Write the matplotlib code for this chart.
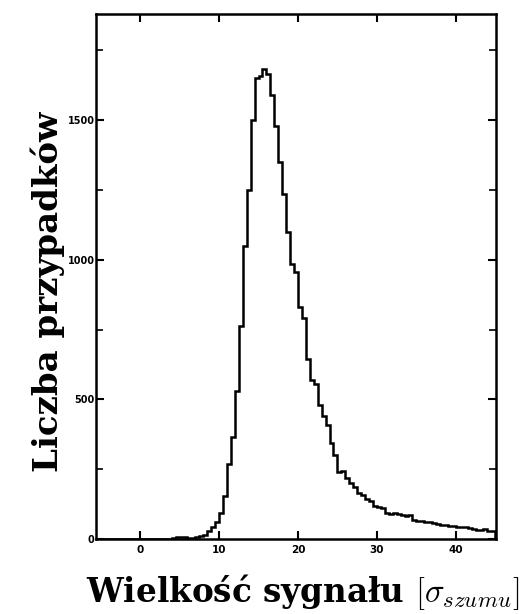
import matplotlib
matplotlib.use("Agg")
import matplotlib.pyplot as plt
import numpy as np
from matplotlib.ticker import MultipleLocator

plt.rcParams['mathtext.fontset'] = 'cm'

# Histogram: bin edges start / width and counts
bin_start = 3.0
bin_width = 0.5
counts = [
    0, 2, 4, 6, 8, 6, 4, 4, 6, 10,           # 3.0 - 8.0
    16, 28, 42, 60, 95, 154, 270, 365, 530, 763,   # 8.0 - 13.0
    1050, 1250, 1500, 1650, 1660, 1685, 1665, 1590, 1480, 1350,  # 13 - 18
    1235, 1100, 985, 955, 830, 790, 645, 570, 555, 480,  # 18 - 23
    440, 410, 345, 300, 240, 245, 220, 200, 185, 165,    # 23 - 28
    158, 142, 135, 118, 115, 112, 92, 90, 93, 90,        # 28 - 33
    85, 82, 85, 70, 65, 64, 62, 60, 57, 55,              # 33 - 38
    52, 50, 48, 46, 45, 44, 45, 40, 36, 34,              # 38 - 43
    32, 35, 30, 28,                                      # 43 - 45
]
edges = bin_start + bin_width * np.arange(len(counts) + 1)

xticks = [0, 10, 20, 30, 40]
yticks = [0, 500, 1000, 1500]

fig = plt.figure(figsize=(5.3, 6.14), dpi=100)
ax = fig.add_axes([0.181, 0.122, 0.755, 0.855])

ax.stairs(counts, edges, color='black', linewidth=1.8)
ax.plot([-5.5, bin_start], [0, 0], color='black', linewidth=1.8)

ax.set_xlim(-5.6, 45.1)
ax.set_ylim(0, 1880)

ax.set_xticks(xticks)
ax.set_yticks(yticks)
ax.yaxis.set_minor_locator(MultipleLocator(250))
ax.set_xticklabels([str(t) for t in xticks], fontsize=7.5, fontweight='bold')
ax.set_yticklabels([str(t) for t in yticks], fontsize=7, fontweight='bold')

ax.tick_params(axis='both', which='major', direction='in', length=6, width=1.5,
               top=True, right=True, pad=4)
ax.tick_params(axis='y', which='minor', direction='in', length=5, width=1.2,
               right=True, left=True)
ax.tick_params(axis='y', which='major', pad=1)

for s in ax.spines.values():
    s.set_linewidth(1.8)

fig.text(0.09, 0.524, 'Liczba przypadków', family='DejaVu Serif',
         fontweight='bold', fontsize=24.5, rotation=90, ha='center', va='center')
fig.text(0.572, 0.019, r'Wielkość sygnału $[\sigma_{szumu}]$', family='DejaVu Serif',
         fontweight='bold', fontsize=23.5, ha='center', va='baseline')

fig.savefig('out.png', dpi=100)
